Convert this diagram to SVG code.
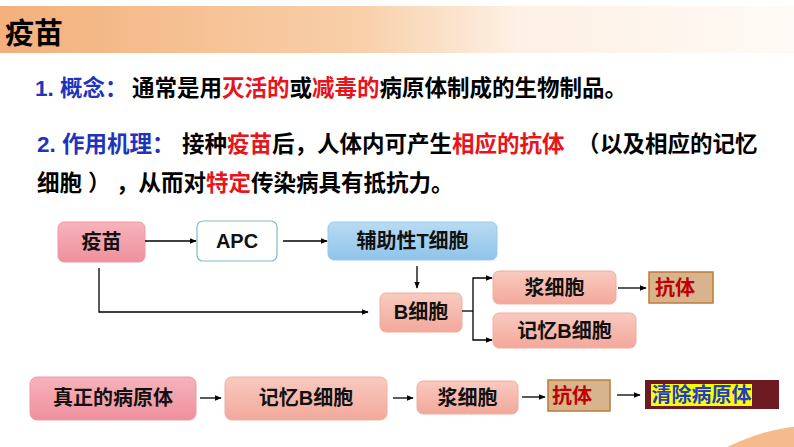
<svg xmlns="http://www.w3.org/2000/svg" width="794" height="447" viewBox="0 0 794 447">
<defs>
<linearGradient id="bar" x1="0" y1="0" x2="1" y2="0">
<stop offset="0" stop-color="#f3b07c"/>
<stop offset="0.45" stop-color="#f8cfa8"/>
<stop offset="0.65" stop-color="#fdf0e4"/>
<stop offset="1" stop-color="#fffaf5"/>
</linearGradient>
<linearGradient id="pink" x1="0" y1="0" x2="0" y2="1">
<stop offset="0" stop-color="#f7b3bb"/>
<stop offset="1" stop-color="#ee909c"/>
</linearGradient>
<linearGradient id="salmon" x1="0" y1="0" x2="0" y2="1">
<stop offset="0" stop-color="#f9cabf"/>
<stop offset="1" stop-color="#f3a89b"/>
</linearGradient>
<linearGradient id="blue" x1="0" y1="0" x2="0" y2="1">
<stop offset="0" stop-color="#b9dbf3"/>
<stop offset="1" stop-color="#8fc3ea"/>
</linearGradient>
<marker id="arr" viewBox="0 0 10 10" refX="9" refY="5" markerWidth="7" markerHeight="7" markerUnits="userSpaceOnUse" orient="auto">
<path d="M0,1 L10,5 L0,9 z" fill="#000"/>
</marker>
<style>
text{font-family:"Liberation Sans","Noto Sans CJK SC",sans-serif;font-weight:bold;}
.h{font-size:22.5px;fill:#000;}
.b{fill:#2233bb;}
.r{fill:#e8141b;}
.n{font-size:20px;fill:#111;text-anchor:middle;}
.c{stroke:#000;stroke-width:1.3;fill:none;}
.pk{fill:url(#pink);stroke:#ee98a4;stroke-width:1;}
.sa{fill:url(#salmon);stroke:#f2aca0;stroke-width:1;}
.tan{fill:#d8b48e;stroke:#c07a35;stroke-width:1.5;}
</style>
</defs>
<circle cx="820" cy="631" r="206" fill="#f5bb8c"/>
<rect x="0" y="6" width="794" height="47" fill="url(#bar)"/>
<text x="5" y="44" style="font-size:29px;fill:#000;">疫苗</text>
<text class="h" x="35" y="96"><tspan class="b">1. 概念：</tspan><tspan x="132">通常是用</tspan><tspan class="r">灭活的</tspan>或<tspan class="r">减毒的</tspan>病原体制成的生物制品。</text>
<text class="h" x="37" y="152"><tspan class="b">2. 作用机理：</tspan><tspan x="182">接种</tspan><tspan class="r">疫苗</tspan>后，人体内可产生<tspan class="r">相应的抗体</tspan><tspan x="577">（</tspan><tspan x="600">以及相应的记忆</tspan></text>
<text class="h" x="37" y="191">细胞 <tspan x="88">）</tspan><tspan x="116">，从而对</tspan><tspan class="r">特定</tspan>传染病具有抵抗力。</text>
<g id="n-vaccine"><rect class="pk" x="58" y="222" width="87" height="40" rx="6"/><text class="n" x="101.5" y="249">疫苗</text></g>
<g id="n-apc"><rect x="197" y="221" width="80" height="40" rx="6" fill="#fff" stroke="#7fbcc9" stroke-width="1.2"/><text class="n" x="237" y="248">APC</text></g>
<g id="n-th"><rect x="328" y="222" width="169" height="38" rx="6" fill="url(#blue)" stroke="#9cc9eb"/><text class="n" x="412.5" y="248">辅助性T细胞</text></g>
<g id="n-b"><rect class="sa" x="380" y="293" width="82" height="39" rx="6"/><text class="n" x="421" y="319">B细胞</text></g>
<g id="n-plasma1"><rect class="sa" x="493" y="271" width="123" height="33" rx="6"/><text class="n" x="554.5" y="295">浆细胞</text></g>
<g id="n-ab1"><rect class="tan" x="649" y="272" width="64" height="31"/><text class="n" x="675" y="295" style="fill:#c00000;">抗体</text></g>
<g id="n-mem1"><rect class="sa" x="493" y="313" width="143" height="35" rx="6"/><text class="n" x="564.5" y="338">记忆B细胞</text></g>
<g id="n-path"><rect class="pk" x="30" y="377" width="166" height="43" rx="7"/><text class="n" x="113" y="405">真正的病原体</text></g>
<g id="n-mem2"><rect class="sa" x="225" y="377" width="162" height="43" rx="7"/><text class="n" x="306" y="405">记忆B细胞</text></g>
<g id="n-plasma2"><rect class="sa" x="417" y="381" width="101" height="33" rx="6"/><text class="n" x="467.5" y="405">浆细胞</text></g>
<g id="n-ab2"><rect class="tan" x="548" y="380" width="62" height="31"/><text class="n" x="572" y="403" style="fill:#c00000;">抗体</text></g>
<g id="n-clear"><rect x="645" y="380" width="134" height="29" fill="#6e1a22"/><rect x="651" y="384" width="101" height="22" fill="#ffff00"/><text class="n" x="701.5" y="402" style="fill:#1f3fbf;">清除病原体</text></g>
<g id="connectors">
<line class="c" x1="145" y1="241" x2="196" y2="241" marker-end="url(#arr)"/>
<line class="c" x1="283" y1="241" x2="327" y2="241" marker-end="url(#arr)"/>
<polyline class="c" points="99,268 99,312 368,312" marker-end="url(#arr)"/>
<line class="c" x1="417" y1="266" x2="417" y2="288" marker-end="url(#arr)"/>
<line class="c" x1="462" y1="311" x2="473" y2="311"/>
<polyline class="c" points="473,311 473,278 492,278" marker-end="url(#arr)"/>
<polyline class="c" points="473,311 473,340 492,340" marker-end="url(#arr)"/>
<line class="c" x1="618" y1="288" x2="646" y2="288" marker-end="url(#arr)"/>
<line class="c" x1="200" y1="398" x2="221" y2="398" marker-end="url(#arr)"/>
<line class="c" x1="393" y1="398" x2="413" y2="398" marker-end="url(#arr)"/>
<line class="c" x1="522" y1="397" x2="545" y2="397" marker-end="url(#arr)"/>
<line class="c" x1="617" y1="395" x2="640" y2="395" marker-end="url(#arr)"/>
</g>
</svg>
